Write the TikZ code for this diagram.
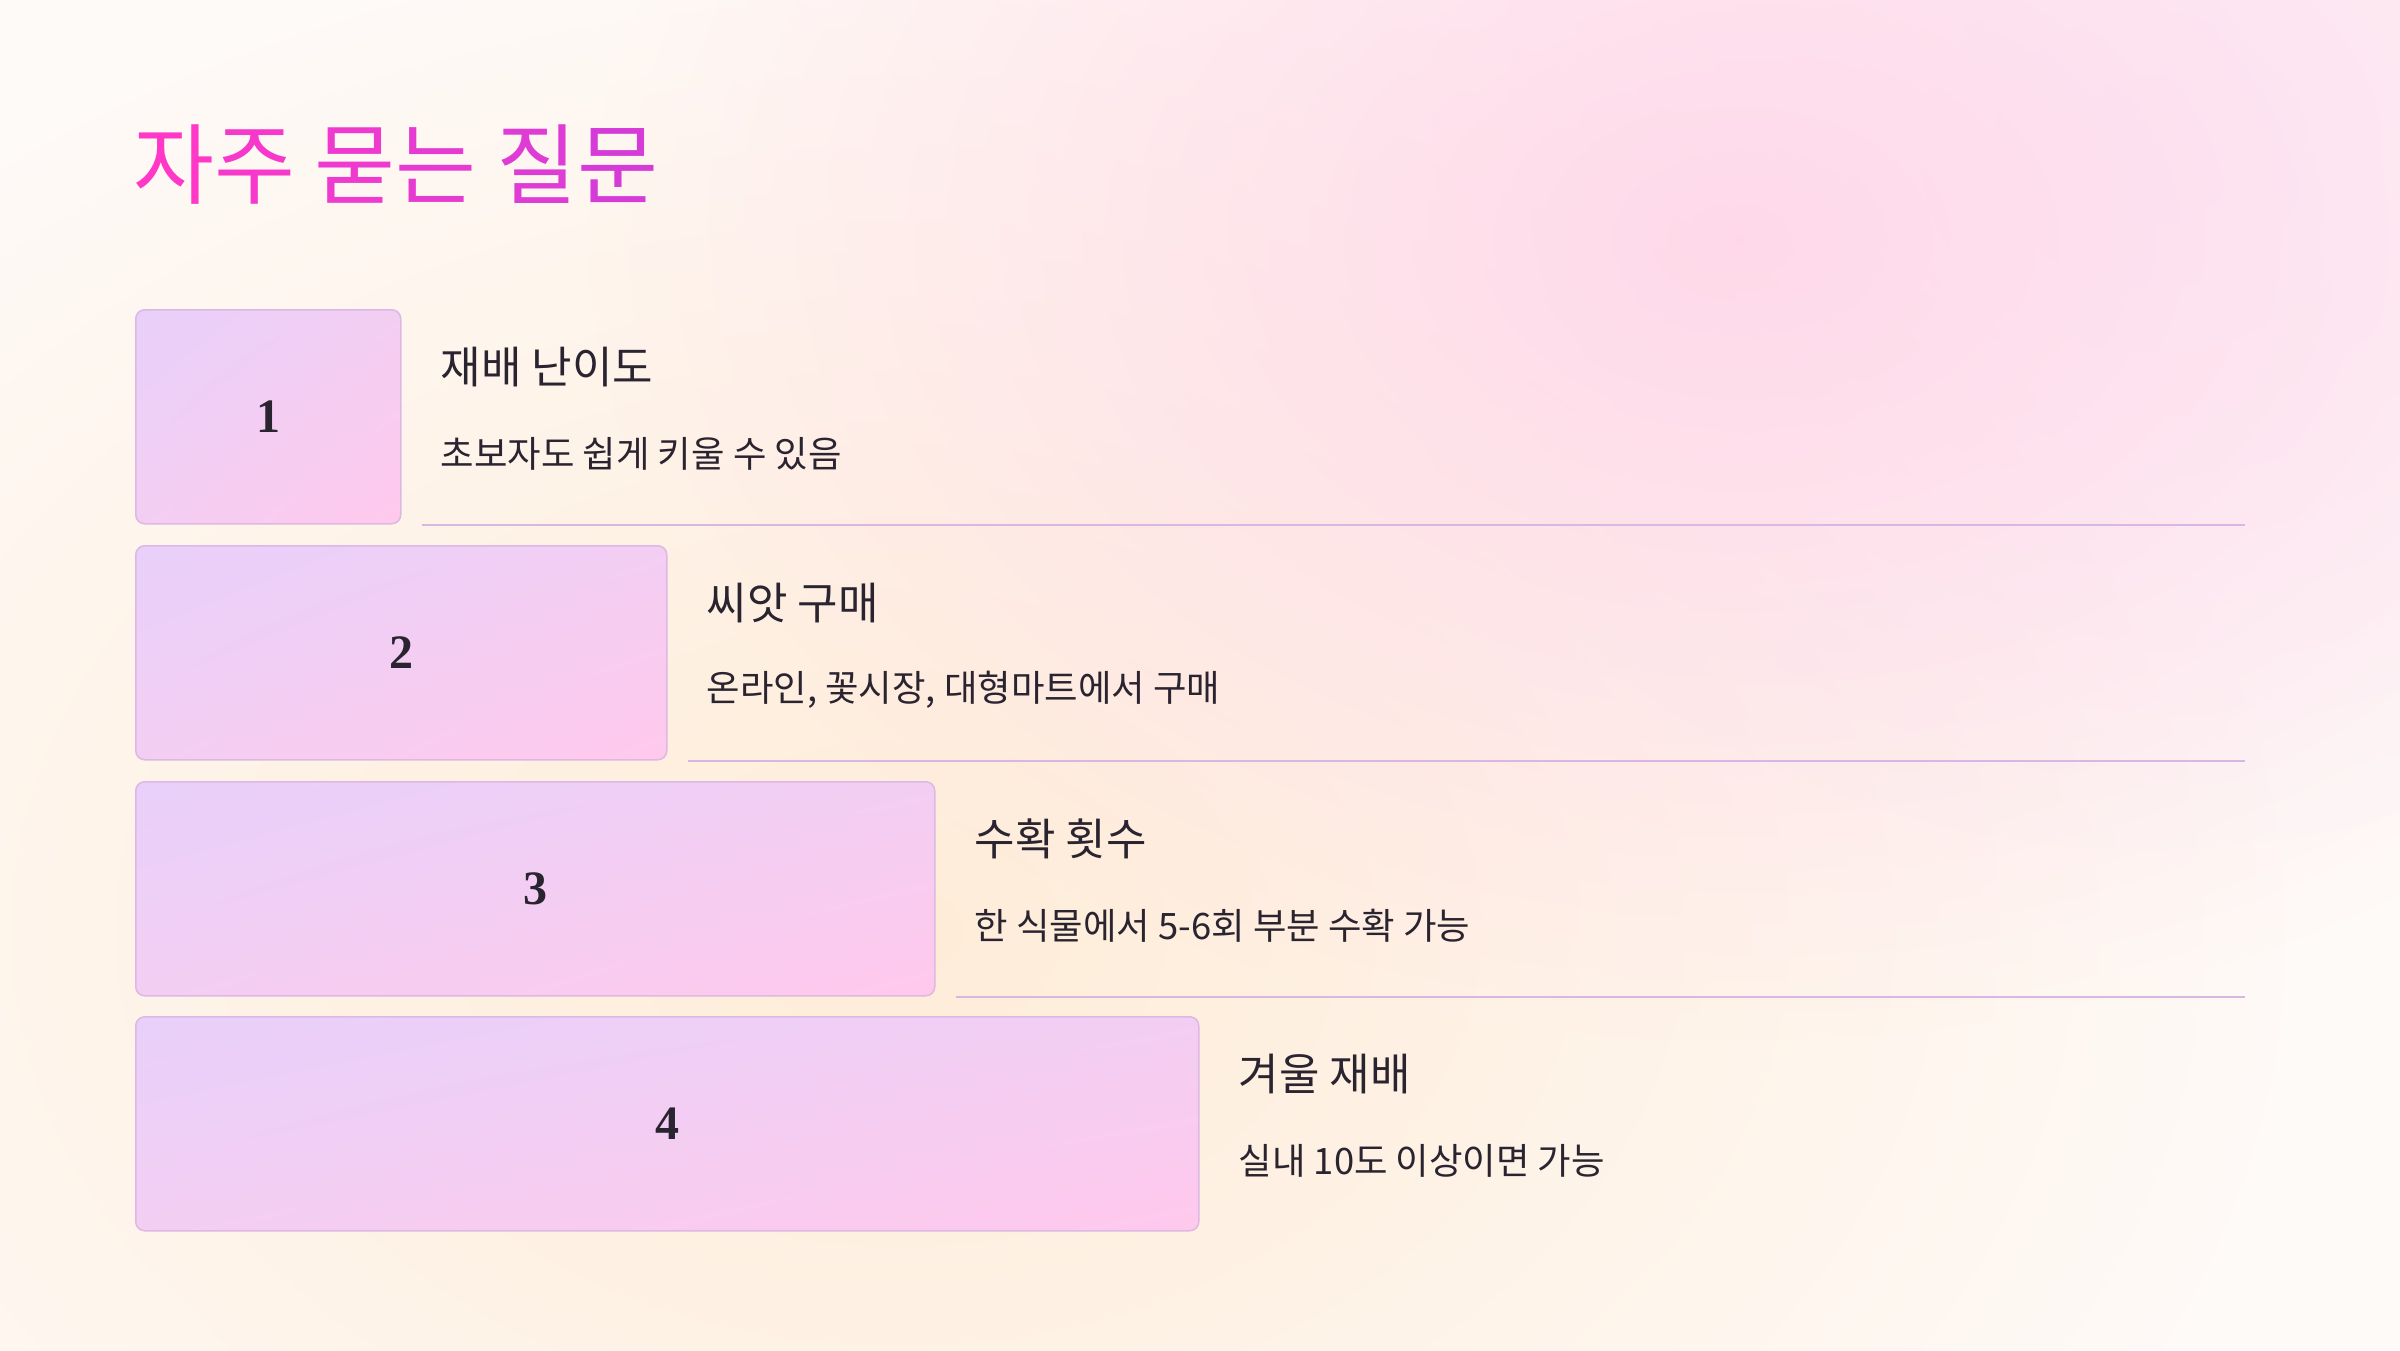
\documentclass[tikz,border=0pt]{standalone}
\usepackage{fontspec}
\newfontfamily\kr{Noto Sans CJK KR}
\newfontfamily\numf{Liberation Serif}
\usetikzlibrary{fadings,shadings}
\tikzfading[name=blobfade, inner color=transparent!0, outer color=transparent!100]
\definecolor{bg}{HTML}{FEFAF7}
\definecolor{blobpink}{HTML}{FFD6E8}
\definecolor{blobpeach}{HTML}{FFEAD3}
\definecolor{bloblav}{HTML}{FCEAFB}
\definecolor{boxborder}{HTML}{DDB8E4}
\definecolor{boxA}{HTML}{E8D0FA}
\definecolor{boxB}{HTML}{F3CEF3}
\definecolor{boxC}{HTML}{FFC9EC}
\definecolor{sepline}{HTML}{D9B6E3}
\definecolor{ink}{HTML}{2A2430}
\definecolor{tA}{HTML}{FF38C8}
\definecolor{tB}{HTML}{F739CB}
\definecolor{tC}{HTML}{EE3ACE}
\definecolor{tD}{HTML}{E63BD1}
\definecolor{tE}{HTML}{DE3CD4}
\definecolor{tF}{HTML}{D53CD7}
\tikzset{
  qbox/.style={draw=boxborder, line width=1.5pt, rounded corners=9pt,
    shading=bilinear interpolation, upper left=boxA, upper right=boxB,
    lower left=boxB, lower right=boxC,
    minimum height=214pt, inner sep=0pt, anchor=north west,
    font=\numf\bfseries\fontsize{48}{58}\selectfont, text=ink},
  qhead/.style={anchor=west, inner sep=0pt, text=ink, font=\kr\fontsize{44}{52}\selectfont},
  qsub/.style={anchor=west, inner sep=0pt, text=ink, font=\kr\fontsize{36.4}{44}\selectfont},
  sep/.style={draw=sepline, line width=2pt},
  ttl/.style={anchor=west, inner sep=0pt, font=\kr\fontsize{88}{104}\selectfont}
}
\begin{document}
\begin{tikzpicture}[x=1pt,y=-1pt]
\useasboundingbox (0,0) rectangle (2400,1350);
\fill[bg] (0,0) rectangle (2400,1350);
\begin{scope}
\clip (0,0) rectangle (2400,1350);
\fill[blobpeach, path fading=blobfade, opacity=0.85] (900,930) ellipse [x radius=1400, y radius=1000];
\fill[bloblav, path fading=blobfade, opacity=0.7] (2150,150) ellipse [x radius=800, y radius=700];
\fill[blobpink, path fading=blobfade, opacity=0.9] (1740,240) ellipse [x radius=1150, y radius=800];
\end{scope}

\node[ttl] (title) at (133,165) {\textcolor{tA}{자}\textcolor{tB}{주} \textcolor{tC}{묻}\textcolor{tD}{는} \textcolor{tE}{질}\textcolor{tF}{문}};

\coordinate (rend) at (2245,0);

\node[qbox, minimum width=265pt] (b1) at (135,309) {1};
\node[qbox, minimum width=531pt] (b2) at (135,545) {2};
\node[qbox, minimum width=799pt] (b3) at (135,781) {3};
\node[qbox, minimum width=1063pt] (b4) at (135,1016) {4};

\node[qhead] (h1) at ([xshift=39pt,yshift=-58pt]b1.north east) {재배 난이도};
\node[qsub]  (s1) at ([xshift=39pt,yshift=-145pt]b1.north east) {초보자도 쉽게 키울 수 있음};
\node[qhead] (h2) at ([xshift=39pt,yshift=-58pt]b2.north east) {씨앗 구매};
\node[qsub]  (s2) at ([xshift=39pt,yshift=-145pt]b2.north east) {온라인, 꽃시장, 대형마트에서 구매};
\node[qhead] (h3) at ([xshift=39pt,yshift=-58pt]b3.north east) {수확 횟수};
\node[qsub]  (s3) at ([xshift=39pt,yshift=-145pt]b3.north east) {한 식물에서 5-6회 부분 수확 가능};
\node[qhead] (h4) at ([xshift=39pt,yshift=-58pt]b4.north east) {겨울 재배};
\node[qsub]  (s4) at ([xshift=39pt,yshift=-145pt]b4.north east) {실내 10도 이상이면 가능};

\draw[sep] ([xshift=20pt]b1.south east) -- (b1.south east -| rend);
\draw[sep] ([xshift=20pt]b2.south east) -- (b2.south east -| rend);
\draw[sep] ([xshift=20pt]b3.south east) -- (b3.south east -| rend);
\end{tikzpicture}
\end{document}
